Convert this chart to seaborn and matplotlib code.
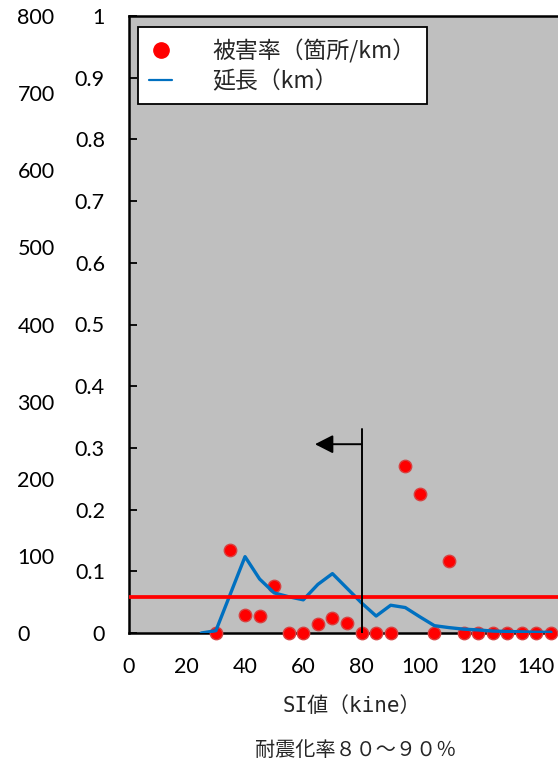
import matplotlib
matplotlib.use("Agg")
import matplotlib.pyplot as plt
import seaborn as sns
from matplotlib.lines import Line2D
from matplotlib.ticker import FuncFormatter

# Damage rate per SI bin (locations/km)
si_rate = [30, 35, 40, 45, 50, 55, 60, 65, 70, 75, 80, 85, 90, 95, 100,
           105, 110, 115, 120, 125, 130, 135, 140, 145]
damage_rate = [0.0, 0.134, 0.029, 0.027, 0.076, 0.0, 0.0, 0.015, 0.025, 0.016,
               0.0, 0.0, 0.0, 0.270, 0.225, 0.0, 0.116, 0.0, 0.0, 0.0, 0.0,
               0.0, 0.0, 0.0]

# Pipeline length per SI bin (km)
si_length = [25, 30, 35, 40, 45, 50, 55, 60, 65, 70, 75, 80, 85, 90, 95, 100,
             105, 110, 115, 120, 125, 130, 135, 140, 145]
length_km = [0, 3, 51, 99, 70, 52, 47, 43, 63, 77, 58, 39, 22, 36, 33, 21,
             9.5, 7, 5, 4, 2.5, 2, 1.5, 1, 1]

mean_rate = 0.058
si_threshold = 80
arrow_top = 0.33
arrow_y = 0.306
arrow_tip = 64

rate_ticks = [0, 0.1, 0.2, 0.3, 0.4, 0.5, 0.6, 0.7, 0.8, 0.9, 1.0]
km_ticks = [0, 100, 200, 300, 400, 500, 600, 700, 800]
si_ticks = [0, 20, 40, 60, 80, 100, 120, 140]

legend_labels = ["被害率（箇所/km）", "延長（km）"]
x_title = "SI値（kine）"
caption = "耐震化率８０～９０％"

sns.set_style("white")
plt.rcParams["font.family"] = ["Lato", "Noto Sans CJK JP", "DejaVu Sans"]

W, H = 558, 767
fig = plt.figure(figsize=(W / 100, H / 100), dpi=100)
ax = fig.add_axes([128.5 / W, 134 / H, 437 / W, 617 / H])
ax.set_facecolor("#bfbfbf")
ax.set_xlim(0, 150)
ax.set_ylim(0, 1)

ax2 = ax.twinx()
ax2.set_ylim(0, 800)

red = "#ff0000"
blue = "#0070c0"

sns.scatterplot(x=si_rate, y=damage_rate, ax=ax, color=red, s=80,
                edgecolor="#d84040", linewidth=1.0, zorder=4,
                clip_on=False, legend=False)

sns.lineplot(x=si_length, y=length_km, ax=ax2, color=blue, lw=2.4,
             zorder=3)

# mean damage rate and threshold marker, in rate units
ax2.plot([0, 1], [mean_rate, mean_rate], transform=ax.get_yaxis_transform(),
         color=red, lw=2.7, zorder=5, solid_capstyle="butt")
ax2.plot([si_threshold, si_threshold], [0, arrow_top], transform=ax.transData,
         color="black", lw=1.4, zorder=6)
ax2.annotate("", xy=(arrow_tip, arrow_y), xytext=(si_threshold, arrow_y),
             xycoords=ax.transData, textcoords=ax.transData,
             arrowprops=dict(arrowstyle="-|>,head_length=0.55,head_width=0.28",
                             color="black", lw=1.4, mutation_scale=20,
                             shrinkA=0, shrinkB=0), zorder=6)

tick_fs = 15.5
ax.set_xticks(si_ticks)
ax.set_yticks(rate_ticks)
ax.yaxis.set_major_formatter(FuncFormatter(lambda v, p: f"{v:g}"))
ax.tick_params(axis="both", direction="in", length=5.8, width=1.3,
               labelsize=tick_fs, colors="black")
ax.tick_params(axis="y", pad=17, right=True)
ax.tick_params(axis="x", pad=17)
ax.set_xlabel("")
ax.set_ylabel("")
for side in ["left", "bottom", "top", "right"]:
    ax.spines[side].set_visible(True)
    ax.spines[side].set_color("black")
    ax.spines[side].set_linewidth(1.8)

ax2.set_yticks(km_ticks, labels=[str(v) for v in km_ticks], ha="left")
ax2.yaxis.tick_left()
ax2.tick_params(axis="y", length=0, pad=80, labelsize=tick_fs,
                colors="black")
ax2.set_ylabel("")
for side in ax2.spines:
    ax2.spines[side].set_visible(False)

cjk = ["Noto Sans CJK JP", "DejaVu Sans"]
mono_cjk = ["DejaVu Sans Mono", "Noto Sans CJK JP"]
handles = [
    Line2D([], [], marker="o", ls="", color=red, markersize=11,
           markeredgecolor=red),
    Line2D([], [], color=blue, lw=1.6),
]
leg = ax2.legend(handles, legend_labels, loc="upper left",
                 bbox_to_anchor=(138 / W, 1 - 27.5 / H),
                 bbox_transform=fig.transFigure, frameon=True,
                 fancybox=False, edgecolor="black", framealpha=1,
                 facecolor="white", borderpad=0.5, handlelength=1.0,
                 handletextpad=1.75, labelspacing=0.3, borderaxespad=0,
                 prop={"family": cjk, "size": 16.5})
leg.get_frame().set_linewidth(1.3)

fig.text(352 / W, 1 - 706 / H, x_title, ha="center", va="center",
         fontsize=15, family=mono_cjk)
fig.text(356 / W, 1 - 750 / H, caption, ha="center", va="center",
         fontsize=14.5, family=cjk)

fig.savefig("out.png", dpi=100)
